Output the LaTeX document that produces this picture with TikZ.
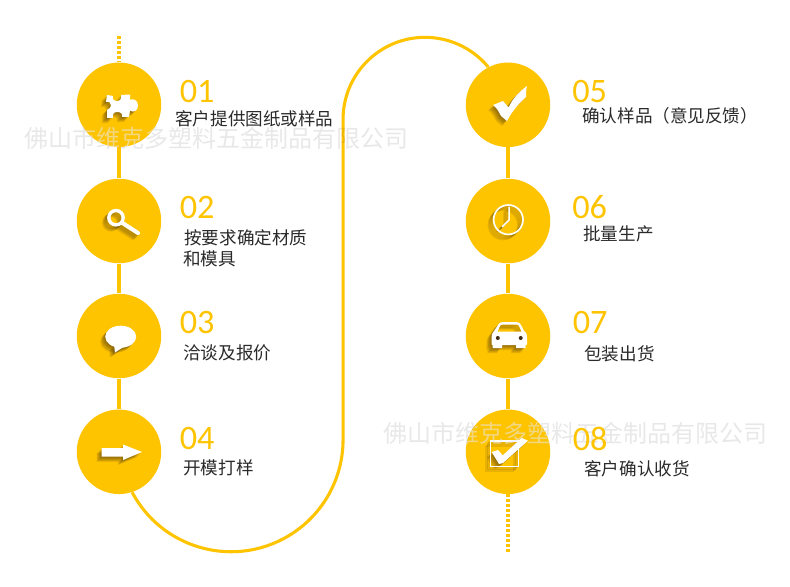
\documentclass[tikz,border=0pt]{standalone}
\usepackage{fontspec}
\usetikzlibrary{backgrounds}
\newfontfamily\cjk{Noto Sans CJK SC}
\newfontfamily\numf{Carlito}
\definecolor{gold}{HTML}{FFC400}
\definecolor{ink}{HTML}{2A2A2A}
\tikzset{
  x=0.02cm,y=0.02cm,
  stepdisc/.style={circle,fill=gold,inner sep=0pt,minimum size=1.69cm},
  linkline/.style={draw=gold,line width=1.75pt},
  dotline/.style={draw=gold,line width=1.75pt,dash pattern=on 1.7pt off 1.15pt},
  numlabel/.style={anchor=west,inner sep=0pt,text=gold,font=\numf\fontsize{19.5}{22}\selectfont},
  textlabel/.style={anchor=west,inner sep=0pt,text=ink,font=\cjk\fontsize{10}{12}\selectfont},
  markgray/.style={inner sep=0pt,text=black,text opacity=.09,font=\cjk\fontsize{13.65}{15}\selectfont},
  markwhite/.style={inner sep=0pt,text=white,text opacity=.5,font=\cjk\fontsize{13.65}{15}\selectfont},
  shadowink/.style={color=black!70!brown,opacity=.11},
  whiteink/.style={color=white},
}
\newcommand\softicon[1]{%
  \foreach \i in {1,...,6}{\begin{scope}[shift={(-0.85*\i,-0.85*\i)}]#1{shadowink}\end{scope}}%
  #1{whiteink}}
\newcommand\iconPuzzle[1]{\fill[#1] (107,-95) -- (113,-96) .. controls (112,-99) and (114,-101) .. (117,-101) .. controls (120,-101) and (122,-99) .. (121,-95) -- (130,-94.5) -- (130,-100) .. controls (133,-98) and (138,-100) .. (138,-105.5) .. controls (138,-111) and (133,-113) .. (130,-110.5) -- (129,-117) -- (122,-117) .. controls (123,-113) and (120,-112) .. (117,-112) .. controls (114,-112) and (112,-114) .. (113,-118) -- (107,-118) -- (107,-110) .. controls (110,-109) and (111,-107) .. (111,-105) .. controls (111,-103) and (109,-101) .. (106,-102) -- cycle;}
\newcommand\iconLens[1]{\draw[#1,line width=1.9pt] (116,-217.7) circle (7.2);\draw[#1,line width=2.3pt,line cap=round] (122,-222.7) -- (138,-233);}
\newcommand\iconBubble[1]{\fill[#1] (120.7,-336.7) ellipse (15.5 and 11);\fill[#1] (114,-345) -- (115,-352.5) -- (125,-346) -- cycle;}
\newcommand\iconArrow[1]{\fill[#1] (101.7,-448) -- (123,-448) -- (123,-444.5) -- (142,-452) -- (123,-460) -- (123,-456.7) -- (101.7,-456.7) -- cycle;}
\newcommand\iconCheck[1]{\fill[#1] (493,-105) -- (503,-101) -- (508.5,-107.5) .. controls (513,-98) and (520,-91) .. (527,-86) .. controls (526,-90) and (526,-93) .. (526,-97) .. controls (518,-104) and (511,-113) .. (507,-121) -- (501,-116) .. controls (499,-112) and (497,-108) .. cycle;}
\newcommand\iconClock[1]{\draw[#1,line width=.95pt] (508.3,-219.7) circle (14.7);\draw[#1,line width=.85pt] (509,-207) -- (509,-220) -- (502,-227);}
\newcommand\iconCar[1]{\fill[#1,even odd rule] (503,-322) -- (516,-322) .. controls (519,-322) and (520,-323) .. (521,-325) -- (524,-331) .. controls (527,-333) and (527,-335) .. (527,-338) -- (527,-344.5) -- (525.5,-345) -- (525.5,-348) -- (516,-348) -- (516,-345) -- (502,-345) -- (502,-348) -- (492.5,-348) -- (492.5,-345) -- (491.5,-344.5) -- (491.5,-338) .. controls (491.5,-335) and (492,-333) .. (494,-331) -- (498,-325) .. controls (499,-323) and (501,-322) .. (503,-322) -- cycle
  (503,-324.5) .. controls (501,-324.5) and (500.5,-325) .. (500,-326) -- (497.5,-331.5) -- (521.5,-331.5) -- (519,-326) .. controls (518.5,-325) and (518,-324.5) .. (516,-324.5) -- cycle;}
\newcommand\iconTick[1]{\draw[#1,line width=.6pt] (490.5,-441) rectangle (518.5,-466.5);\fill[#1] (491.7,-452) -- (498,-450) -- (502.7,-455.3) -- (521.7,-438) -- (528,-440.7) -- (503,-463) -- (499,-464) -- cycle;}
\begin{document}
\begin{tikzpicture}
\useasboundingbox (0,0) rectangle (790,-587);
% discs
\node[stepdisc] (c1) at (119,-104.8) {};
\node[stepdisc] (c2) at (119,-221) {};
\node[stepdisc] (c3) at (119,-336) {};
\node[stepdisc] (c4) at (119,-451.8) {};
\node[stepdisc] (c5) at (508,-104.8) {};
\node[stepdisc] (c6) at (508,-221) {};
\node[stepdisc] (c7) at (508,-336) {};
\node[stepdisc] (c8) at (508,-451.8) {};
\coordinate (topend) at (119,-36);
\coordinate (botend) at (508,-554);
% connectors
\begin{scope}[on background layer]
  \fill[white] (0,0) rectangle (790,-587);
  \draw[dotline] (topend) -- (c1);
  \draw[dotline] (c8) -- (botend);
  \draw[linkline] (c1) -- (c2);
  \draw[linkline] (c2) -- (c3);
  \draw[linkline] (c3) -- (c4);
  \draw[linkline] (c5) -- (c6);
  \draw[linkline] (c6) -- (c7);
  \draw[linkline] (c7) -- (c8);
  \draw[linkline] (c4.-72) arc[start angle=208,end angle=360,radius=112] -- ++(0,320.4) arc[start angle=180,end angle=40.6,radius=82] -- (c5);
\end{scope}
% icons
\softicon\iconPuzzle
\softicon\iconLens
\softicon\iconBubble
\softicon\iconArrow
\softicon\iconCheck
\softicon\iconClock
\softicon\iconCar
\fill[black!65!brown] (497.8,-338) circle (2) (520.7,-338) circle (2);
\softicon\iconTick
% watermarks
\node[markgray] (w1) at (216.5,-138) {佛山市维克多塑料五金制品有限公司};
\node[markgray] (w2) at (575.5,-433) {佛山市维克多塑料五金制品有限公司};
\begin{scope}
  \clip (119,-104.8) circle (42.2);
  \node[markwhite] (w1b) at (216.5,-138) {佛山市维克多塑料五金制品有限公司};
\end{scope}
\begin{scope}
  \clip (508,-451.8) circle (42.2);
  \node[markwhite] (w2b) at (575.5,-433) {佛山市维克多塑料五金制品有限公司};
\end{scope}
% numbers
\node[numlabel] (n1) at (179.5,-91.5) {01};
\node[numlabel] (n2) at (179.5,-207.5) {02};
\node[numlabel] (n3) at (179.5,-322.5) {03};
\node[numlabel] (n4) at (179.5,-438.5) {04};
\node[numlabel] (n5) at (572,-91.5) {05};
\node[numlabel] (n6) at (572,-207.5) {06};
\node[numlabel] (n7) at (572.5,-322.5) {07};
\node[numlabel] (n8) at (572.5,-438.5) {08};
% captions
\node[textlabel] (t1) at (175,-119) {客户提供图纸或样品};
\node[textlabel] (t2) at (184,-238) {按要求确定材质};
\node[textlabel] (t2b) at (183,-258.5) {和模具};
\node[textlabel] (t3) at (183,-352.5) {洽谈及报价};
\node[textlabel] (t4) at (183,-467.5) {开模打样};
\node[textlabel] (t5) at (582,-115.5) {确认样品（意见反馈）};
\node[textlabel] (t6) at (583,-234) {批量生产};
\node[textlabel] (t7) at (584,-354) {包装出货};
\node[textlabel] (t8) at (584,-469) {客户确认收货};
\end{tikzpicture}
\end{document}
